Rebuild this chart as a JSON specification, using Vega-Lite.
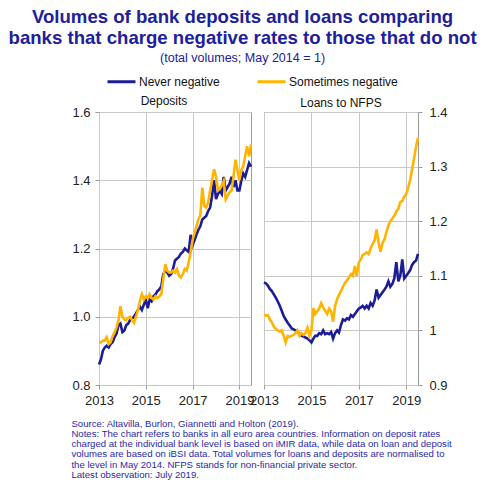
{
  "$schema": "https://vega.github.io/schema/vega-lite/v6.json",
  "padding": {"left": 8, "right": 5, "top": 7, "bottom": 0},
  "background": "white",
  "title": {
    "text": ["Volumes of bank deposits and loans comparing", "banks that charge negative rates to those that do not"],
    "subtitle": "(total volumes; May 2014 = 1)",
    "font": "Liberation Sans",
    "fontSize": 18.6,
    "fontWeight": "bold",
    "color": "#20209a",
    "lineHeight": 21,
    "subtitleFont": "Liberation Sans",
    "subtitleFontSize": 12.5,
    "subtitleColor": "#20209a",
    "subtitlePadding": 4,
    "anchor": "middle",
    "dx": -19,
    "offset": 2
  },
  "datasets": {
    "deposits": [
      {"date": "2013-01", "series": "Never negative", "value": 0.86},
      {"date": "2013-02", "series": "Never negative", "value": 0.875},
      {"date": "2013-03", "series": "Never negative", "value": 0.90},
      {"date": "2013-04", "series": "Never negative", "value": 0.91},
      {"date": "2013-05", "series": "Never negative", "value": 0.915},
      {"date": "2013-06", "series": "Never negative", "value": 0.91},
      {"date": "2013-07", "series": "Never negative", "value": 0.92},
      {"date": "2013-08", "series": "Never negative", "value": 0.925},
      {"date": "2013-09", "series": "Never negative", "value": 0.94},
      {"date": "2013-10", "series": "Never negative", "value": 0.95},
      {"date": "2013-11", "series": "Never negative", "value": 0.975},
      {"date": "2013-12", "series": "Never negative", "value": 0.98},
      {"date": "2014-01", "series": "Never negative", "value": 0.955},
      {"date": "2014-02", "series": "Never negative", "value": 0.96},
      {"date": "2014-03", "series": "Never negative", "value": 0.975},
      {"date": "2014-04", "series": "Never negative", "value": 0.98},
      {"date": "2014-05", "series": "Never negative", "value": 0.99},
      {"date": "2014-06", "series": "Never negative", "value": 0.995},
      {"date": "2014-07", "series": "Never negative", "value": 1.0},
      {"date": "2014-08", "series": "Never negative", "value": 1.01},
      {"date": "2014-09", "series": "Never negative", "value": 1.02},
      {"date": "2014-10", "series": "Never negative", "value": 1.03},
      {"date": "2014-11", "series": "Never negative", "value": 1.02},
      {"date": "2014-12", "series": "Never negative", "value": 1.035},
      {"date": "2015-01", "series": "Never negative", "value": 1.05},
      {"date": "2015-02", "series": "Never negative", "value": 1.025},
      {"date": "2015-03", "series": "Never negative", "value": 1.05},
      {"date": "2015-04", "series": "Never negative", "value": 1.045},
      {"date": "2015-05", "series": "Never negative", "value": 1.06},
      {"date": "2015-06", "series": "Never negative", "value": 1.065},
      {"date": "2015-07", "series": "Never negative", "value": 1.075},
      {"date": "2015-08", "series": "Never negative", "value": 1.08},
      {"date": "2015-09", "series": "Never negative", "value": 1.09},
      {"date": "2015-10", "series": "Never negative", "value": 1.125},
      {"date": "2015-11", "series": "Never negative", "value": 1.135},
      {"date": "2015-12", "series": "Never negative", "value": 1.13},
      {"date": "2016-01", "series": "Never negative", "value": 1.12},
      {"date": "2016-02", "series": "Never negative", "value": 1.125},
      {"date": "2016-03", "series": "Never negative", "value": 1.14},
      {"date": "2016-04", "series": "Never negative", "value": 1.165},
      {"date": "2016-05", "series": "Never negative", "value": 1.17},
      {"date": "2016-06", "series": "Never negative", "value": 1.175},
      {"date": "2016-07", "series": "Never negative", "value": 1.185},
      {"date": "2016-08", "series": "Never negative", "value": 1.19},
      {"date": "2016-09", "series": "Never negative", "value": 1.20},
      {"date": "2016-10", "series": "Never negative", "value": 1.195},
      {"date": "2016-11", "series": "Never negative", "value": 1.19},
      {"date": "2016-12", "series": "Never negative", "value": 1.24},
      {"date": "2017-01", "series": "Never negative", "value": 1.21},
      {"date": "2017-02", "series": "Never negative", "value": 1.225},
      {"date": "2017-03", "series": "Never negative", "value": 1.24},
      {"date": "2017-04", "series": "Never negative", "value": 1.255},
      {"date": "2017-05", "series": "Never negative", "value": 1.265},
      {"date": "2017-06", "series": "Never negative", "value": 1.285},
      {"date": "2017-07", "series": "Never negative", "value": 1.29},
      {"date": "2017-08", "series": "Never negative", "value": 1.295},
      {"date": "2017-09", "series": "Never negative", "value": 1.31},
      {"date": "2017-10", "series": "Never negative", "value": 1.32},
      {"date": "2017-11", "series": "Never negative", "value": 1.355},
      {"date": "2017-12", "series": "Never negative", "value": 1.40},
      {"date": "2018-01", "series": "Never negative", "value": 1.345},
      {"date": "2018-02", "series": "Never negative", "value": 1.36},
      {"date": "2018-03", "series": "Never negative", "value": 1.37},
      {"date": "2018-04", "series": "Never negative", "value": 1.36},
      {"date": "2018-05", "series": "Never negative", "value": 1.41},
      {"date": "2018-06", "series": "Never negative", "value": 1.37},
      {"date": "2018-07", "series": "Never negative", "value": 1.38},
      {"date": "2018-08", "series": "Never negative", "value": 1.39},
      {"date": "2018-09", "series": "Never negative", "value": 1.41},
      {"date": "2018-10", "series": "Never negative", "value": 1.38},
      {"date": "2018-11", "series": "Never negative", "value": 1.40},
      {"date": "2018-12", "series": "Never negative", "value": 1.37},
      {"date": "2019-01", "series": "Never negative", "value": 1.37},
      {"date": "2019-02", "series": "Never negative", "value": 1.40},
      {"date": "2019-03", "series": "Never negative", "value": 1.42},
      {"date": "2019-04", "series": "Never negative", "value": 1.41},
      {"date": "2019-05", "series": "Never negative", "value": 1.43},
      {"date": "2019-06", "series": "Never negative", "value": 1.45},
      {"date": "2019-07", "series": "Never negative", "value": 1.44},
      {"date": "2013-01", "series": "Sometimes negative", "value": 0.925},
      {"date": "2013-02", "series": "Sometimes negative", "value": 0.925},
      {"date": "2013-03", "series": "Sometimes negative", "value": 0.93},
      {"date": "2013-04", "series": "Sometimes negative", "value": 0.93},
      {"date": "2013-05", "series": "Sometimes negative", "value": 0.94},
      {"date": "2013-06", "series": "Sometimes negative", "value": 0.92},
      {"date": "2013-07", "series": "Sometimes negative", "value": 0.925},
      {"date": "2013-08", "series": "Sometimes negative", "value": 0.943},
      {"date": "2013-09", "series": "Sometimes negative", "value": 0.955},
      {"date": "2013-10", "series": "Sometimes negative", "value": 0.968},
      {"date": "2013-11", "series": "Sometimes negative", "value": 0.99},
      {"date": "2013-12", "series": "Sometimes negative", "value": 1.031},
      {"date": "2014-01", "series": "Sometimes negative", "value": 1.0},
      {"date": "2014-02", "series": "Sometimes negative", "value": 0.992},
      {"date": "2014-03", "series": "Sometimes negative", "value": 0.99},
      {"date": "2014-04", "series": "Sometimes negative", "value": 0.997},
      {"date": "2014-05", "series": "Sometimes negative", "value": 1.0},
      {"date": "2014-06", "series": "Sometimes negative", "value": 0.99},
      {"date": "2014-07", "series": "Sometimes negative", "value": 0.982},
      {"date": "2014-08", "series": "Sometimes negative", "value": 1.0},
      {"date": "2014-09", "series": "Sometimes negative", "value": 1.02},
      {"date": "2014-10", "series": "Sometimes negative", "value": 1.046},
      {"date": "2014-11", "series": "Sometimes negative", "value": 1.066},
      {"date": "2014-12", "series": "Sometimes negative", "value": 1.05},
      {"date": "2015-01", "series": "Sometimes negative", "value": 1.06},
      {"date": "2015-02", "series": "Sometimes negative", "value": 1.055},
      {"date": "2015-03", "series": "Sometimes negative", "value": 1.066},
      {"date": "2015-04", "series": "Sometimes negative", "value": 1.056},
      {"date": "2015-05", "series": "Sometimes negative", "value": 1.05},
      {"date": "2015-06", "series": "Sometimes negative", "value": 1.06},
      {"date": "2015-07", "series": "Sometimes negative", "value": 1.055},
      {"date": "2015-08", "series": "Sometimes negative", "value": 1.06},
      {"date": "2015-09", "series": "Sometimes negative", "value": 1.066},
      {"date": "2015-10", "series": "Sometimes negative", "value": 1.11},
      {"date": "2015-11", "series": "Sometimes negative", "value": 1.154},
      {"date": "2015-12", "series": "Sometimes negative", "value": 1.135},
      {"date": "2016-01", "series": "Sometimes negative", "value": 1.13},
      {"date": "2016-02", "series": "Sometimes negative", "value": 1.13},
      {"date": "2016-03", "series": "Sometimes negative", "value": 1.135},
      {"date": "2016-04", "series": "Sometimes negative", "value": 1.13},
      {"date": "2016-05", "series": "Sometimes negative", "value": 1.14},
      {"date": "2016-06", "series": "Sometimes negative", "value": 1.12},
      {"date": "2016-07", "series": "Sometimes negative", "value": 1.115},
      {"date": "2016-08", "series": "Sometimes negative", "value": 1.125},
      {"date": "2016-09", "series": "Sometimes negative", "value": 1.14},
      {"date": "2016-10", "series": "Sometimes negative", "value": 1.135},
      {"date": "2016-11", "series": "Sometimes negative", "value": 1.16},
      {"date": "2016-12", "series": "Sometimes negative", "value": 1.19},
      {"date": "2017-01", "series": "Sometimes negative", "value": 1.225},
      {"date": "2017-02", "series": "Sometimes negative", "value": 1.247},
      {"date": "2017-03", "series": "Sometimes negative", "value": 1.265},
      {"date": "2017-04", "series": "Sometimes negative", "value": 1.286},
      {"date": "2017-05", "series": "Sometimes negative", "value": 1.296},
      {"date": "2017-06", "series": "Sometimes negative", "value": 1.378},
      {"date": "2017-07", "series": "Sometimes negative", "value": 1.325},
      {"date": "2017-08", "series": "Sometimes negative", "value": 1.32},
      {"date": "2017-09", "series": "Sometimes negative", "value": 1.335},
      {"date": "2017-10", "series": "Sometimes negative", "value": 1.37},
      {"date": "2017-11", "series": "Sometimes negative", "value": 1.40},
      {"date": "2017-12", "series": "Sometimes negative", "value": 1.432},
      {"date": "2018-01", "series": "Sometimes negative", "value": 1.41},
      {"date": "2018-02", "series": "Sometimes negative", "value": 1.37},
      {"date": "2018-03", "series": "Sometimes negative", "value": 1.374},
      {"date": "2018-04", "series": "Sometimes negative", "value": 1.385},
      {"date": "2018-05", "series": "Sometimes negative", "value": 1.398},
      {"date": "2018-06", "series": "Sometimes negative", "value": 1.344},
      {"date": "2018-07", "series": "Sometimes negative", "value": 1.355},
      {"date": "2018-08", "series": "Sometimes negative", "value": 1.365},
      {"date": "2018-09", "series": "Sometimes negative", "value": 1.37},
      {"date": "2018-10", "series": "Sometimes negative", "value": 1.41},
      {"date": "2018-11", "series": "Sometimes negative", "value": 1.46},
      {"date": "2018-12", "series": "Sometimes negative", "value": 1.43},
      {"date": "2019-01", "series": "Sometimes negative", "value": 1.40},
      {"date": "2019-02", "series": "Sometimes negative", "value": 1.43},
      {"date": "2019-03", "series": "Sometimes negative", "value": 1.44},
      {"date": "2019-04", "series": "Sometimes negative", "value": 1.47},
      {"date": "2019-05", "series": "Sometimes negative", "value": 1.50},
      {"date": "2019-06", "series": "Sometimes negative", "value": 1.47},
      {"date": "2019-07", "series": "Sometimes negative", "value": 1.505}
    ],
    "loans": [
      {"date": "2013-01", "series": "Never negative", "value": 1.088},
      {"date": "2013-02", "series": "Never negative", "value": 1.086},
      {"date": "2013-03", "series": "Never negative", "value": 1.082},
      {"date": "2013-04", "series": "Never negative", "value": 1.076},
      {"date": "2013-05", "series": "Never negative", "value": 1.072},
      {"date": "2013-06", "series": "Never negative", "value": 1.066},
      {"date": "2013-07", "series": "Never negative", "value": 1.06},
      {"date": "2013-08", "series": "Never negative", "value": 1.053},
      {"date": "2013-09", "series": "Never negative", "value": 1.045},
      {"date": "2013-10", "series": "Never negative", "value": 1.036},
      {"date": "2013-11", "series": "Never negative", "value": 1.026},
      {"date": "2013-12", "series": "Never negative", "value": 1.02},
      {"date": "2014-01", "series": "Never negative", "value": 1.014},
      {"date": "2014-02", "series": "Never negative", "value": 1.009},
      {"date": "2014-03", "series": "Never negative", "value": 1.004},
      {"date": "2014-04", "series": "Never negative", "value": 1.002},
      {"date": "2014-05", "series": "Never negative", "value": 1.0},
      {"date": "2014-06", "series": "Never negative", "value": 0.998},
      {"date": "2014-07", "series": "Never negative", "value": 0.993},
      {"date": "2014-08", "series": "Never negative", "value": 0.99},
      {"date": "2014-09", "series": "Never negative", "value": 0.989},
      {"date": "2014-10", "series": "Never negative", "value": 0.987},
      {"date": "2014-11", "series": "Never negative", "value": 0.985},
      {"date": "2014-12", "series": "Never negative", "value": 0.982},
      {"date": "2015-01", "series": "Never negative", "value": 0.978},
      {"date": "2015-02", "series": "Never negative", "value": 0.985},
      {"date": "2015-03", "series": "Never negative", "value": 0.99},
      {"date": "2015-04", "series": "Never negative", "value": 0.99},
      {"date": "2015-05", "series": "Never negative", "value": 0.995},
      {"date": "2015-06", "series": "Never negative", "value": 0.993},
      {"date": "2015-07", "series": "Never negative", "value": 1.0},
      {"date": "2015-08", "series": "Never negative", "value": 0.993},
      {"date": "2015-09", "series": "Never negative", "value": 0.995},
      {"date": "2015-10", "series": "Never negative", "value": 0.993},
      {"date": "2015-11", "series": "Never negative", "value": 0.997},
      {"date": "2015-12", "series": "Never negative", "value": 0.985},
      {"date": "2016-01", "series": "Never negative", "value": 0.995},
      {"date": "2016-02", "series": "Never negative", "value": 1.0},
      {"date": "2016-03", "series": "Never negative", "value": 0.996},
      {"date": "2016-04", "series": "Never negative", "value": 1.01},
      {"date": "2016-05", "series": "Never negative", "value": 1.02},
      {"date": "2016-06", "series": "Never negative", "value": 1.018},
      {"date": "2016-07", "series": "Never negative", "value": 1.022},
      {"date": "2016-08", "series": "Never negative", "value": 1.02},
      {"date": "2016-09", "series": "Never negative", "value": 1.028},
      {"date": "2016-10", "series": "Never negative", "value": 1.025},
      {"date": "2016-11", "series": "Never negative", "value": 1.03},
      {"date": "2016-12", "series": "Never negative", "value": 1.035},
      {"date": "2017-01", "series": "Never negative", "value": 1.04},
      {"date": "2017-02", "series": "Never negative", "value": 1.042},
      {"date": "2017-03", "series": "Never negative", "value": 1.045},
      {"date": "2017-04", "series": "Never negative", "value": 1.04},
      {"date": "2017-05", "series": "Never negative", "value": 1.045},
      {"date": "2017-06", "series": "Never negative", "value": 1.04},
      {"date": "2017-07", "series": "Never negative", "value": 1.05},
      {"date": "2017-08", "series": "Never negative", "value": 1.045},
      {"date": "2017-09", "series": "Never negative", "value": 1.055},
      {"date": "2017-10", "series": "Never negative", "value": 1.075},
      {"date": "2017-11", "series": "Never negative", "value": 1.06},
      {"date": "2017-12", "series": "Never negative", "value": 1.065},
      {"date": "2018-01", "series": "Never negative", "value": 1.07},
      {"date": "2018-02", "series": "Never negative", "value": 1.075},
      {"date": "2018-03", "series": "Never negative", "value": 1.08},
      {"date": "2018-04", "series": "Never negative", "value": 1.09},
      {"date": "2018-05", "series": "Never negative", "value": 1.08},
      {"date": "2018-06", "series": "Never negative", "value": 1.085},
      {"date": "2018-07", "series": "Never negative", "value": 1.095},
      {"date": "2018-08", "series": "Never negative", "value": 1.125},
      {"date": "2018-09", "series": "Never negative", "value": 1.09},
      {"date": "2018-10", "series": "Never negative", "value": 1.10},
      {"date": "2018-11", "series": "Never negative", "value": 1.13},
      {"date": "2018-12", "series": "Never negative", "value": 1.095},
      {"date": "2019-01", "series": "Never negative", "value": 1.10},
      {"date": "2019-02", "series": "Never negative", "value": 1.105},
      {"date": "2019-03", "series": "Never negative", "value": 1.11},
      {"date": "2019-04", "series": "Never negative", "value": 1.12},
      {"date": "2019-05", "series": "Never negative", "value": 1.125},
      {"date": "2019-06", "series": "Never negative", "value": 1.128},
      {"date": "2019-07", "series": "Never negative", "value": 1.14},
      {"date": "2013-01", "series": "Sometimes negative", "value": 1.029},
      {"date": "2013-02", "series": "Sometimes negative", "value": 1.027},
      {"date": "2013-03", "series": "Sometimes negative", "value": 1.028},
      {"date": "2013-04", "series": "Sometimes negative", "value": 1.02},
      {"date": "2013-05", "series": "Sometimes negative", "value": 1.015},
      {"date": "2013-06", "series": "Sometimes negative", "value": 1.007},
      {"date": "2013-07", "series": "Sometimes negative", "value": 1.003},
      {"date": "2013-08", "series": "Sometimes negative", "value": 1.0},
      {"date": "2013-09", "series": "Sometimes negative", "value": 0.998},
      {"date": "2013-10", "series": "Sometimes negative", "value": 1.0},
      {"date": "2013-11", "series": "Sometimes negative", "value": 0.99},
      {"date": "2013-12", "series": "Sometimes negative", "value": 0.978},
      {"date": "2014-01", "series": "Sometimes negative", "value": 0.99},
      {"date": "2014-02", "series": "Sometimes negative", "value": 0.988},
      {"date": "2014-03", "series": "Sometimes negative", "value": 0.99},
      {"date": "2014-04", "series": "Sometimes negative", "value": 0.992},
      {"date": "2014-05", "series": "Sometimes negative", "value": 0.995},
      {"date": "2014-06", "series": "Sometimes negative", "value": 1.0},
      {"date": "2014-07", "series": "Sometimes negative", "value": 0.99},
      {"date": "2014-08", "series": "Sometimes negative", "value": 0.995},
      {"date": "2014-09", "series": "Sometimes negative", "value": 0.992},
      {"date": "2014-10", "series": "Sometimes negative", "value": 0.995},
      {"date": "2014-11", "series": "Sometimes negative", "value": 1.005},
      {"date": "2014-12", "series": "Sometimes negative", "value": 0.99},
      {"date": "2015-01", "series": "Sometimes negative", "value": 1.0},
      {"date": "2015-02", "series": "Sometimes negative", "value": 1.041},
      {"date": "2015-03", "series": "Sometimes negative", "value": 1.03},
      {"date": "2015-04", "series": "Sometimes negative", "value": 1.035},
      {"date": "2015-05", "series": "Sometimes negative", "value": 1.04},
      {"date": "2015-06", "series": "Sometimes negative", "value": 1.05},
      {"date": "2015-07", "series": "Sometimes negative", "value": 1.042},
      {"date": "2015-08", "series": "Sometimes negative", "value": 1.036},
      {"date": "2015-09", "series": "Sometimes negative", "value": 1.03},
      {"date": "2015-10", "series": "Sometimes negative", "value": 1.04},
      {"date": "2015-11", "series": "Sometimes negative", "value": 1.035},
      {"date": "2015-12", "series": "Sometimes negative", "value": 1.016},
      {"date": "2016-01", "series": "Sometimes negative", "value": 1.045},
      {"date": "2016-02", "series": "Sometimes negative", "value": 1.057},
      {"date": "2016-03", "series": "Sometimes negative", "value": 1.065},
      {"date": "2016-04", "series": "Sometimes negative", "value": 1.072},
      {"date": "2016-05", "series": "Sometimes negative", "value": 1.08},
      {"date": "2016-06", "series": "Sometimes negative", "value": 1.087},
      {"date": "2016-07", "series": "Sometimes negative", "value": 1.092},
      {"date": "2016-08", "series": "Sometimes negative", "value": 1.097},
      {"date": "2016-09", "series": "Sometimes negative", "value": 1.103},
      {"date": "2016-10", "series": "Sometimes negative", "value": 1.10},
      {"date": "2016-11", "series": "Sometimes negative", "value": 1.118},
      {"date": "2016-12", "series": "Sometimes negative", "value": 1.10},
      {"date": "2017-01", "series": "Sometimes negative", "value": 1.125},
      {"date": "2017-02", "series": "Sometimes negative", "value": 1.13},
      {"date": "2017-03", "series": "Sometimes negative", "value": 1.138},
      {"date": "2017-04", "series": "Sometimes negative", "value": 1.14},
      {"date": "2017-05", "series": "Sometimes negative", "value": 1.143},
      {"date": "2017-06", "series": "Sometimes negative", "value": 1.14},
      {"date": "2017-07", "series": "Sometimes negative", "value": 1.15},
      {"date": "2017-08", "series": "Sometimes negative", "value": 1.158},
      {"date": "2017-09", "series": "Sometimes negative", "value": 1.165},
      {"date": "2017-10", "series": "Sometimes negative", "value": 1.185},
      {"date": "2017-11", "series": "Sometimes negative", "value": 1.16},
      {"date": "2017-12", "series": "Sometimes negative", "value": 1.144},
      {"date": "2018-01", "series": "Sometimes negative", "value": 1.16},
      {"date": "2018-02", "series": "Sometimes negative", "value": 1.167},
      {"date": "2018-03", "series": "Sometimes negative", "value": 1.18},
      {"date": "2018-04", "series": "Sometimes negative", "value": 1.192},
      {"date": "2018-05", "series": "Sometimes negative", "value": 1.20},
      {"date": "2018-06", "series": "Sometimes negative", "value": 1.205},
      {"date": "2018-07", "series": "Sometimes negative", "value": 1.21},
      {"date": "2018-08", "series": "Sometimes negative", "value": 1.218},
      {"date": "2018-09", "series": "Sometimes negative", "value": 1.223},
      {"date": "2018-10", "series": "Sometimes negative", "value": 1.235},
      {"date": "2018-11", "series": "Sometimes negative", "value": 1.237},
      {"date": "2018-12", "series": "Sometimes negative", "value": 1.245},
      {"date": "2019-01", "series": "Sometimes negative", "value": 1.25},
      {"date": "2019-02", "series": "Sometimes negative", "value": 1.262},
      {"date": "2019-03", "series": "Sometimes negative", "value": 1.275},
      {"date": "2019-04", "series": "Sometimes negative", "value": 1.295},
      {"date": "2019-05", "series": "Sometimes negative", "value": 1.315},
      {"date": "2019-06", "series": "Sometimes negative", "value": 1.337},
      {"date": "2019-07", "series": "Sometimes negative", "value": 1.353}
    ]
  },
  "vconcat": [
    {
      "title": {
        "text": [
          "Source: Altavilla, Burlon, Giannetti and Holton (2019).",
          "Notes: The chart refers to banks in all euro area countries.  Information on deposit rates",
          "charged at the individual bank level is based on iMIR data, while data on loan and deposit",
          "volumes are based on iBSI data. Total volumes for loans and deposits are normalised to",
          "the level in May 2014. NFPS stands for non-financial private sector.",
          "Latest observation: July 2019."
        ],
        "orient": "bottom",
        "anchor": "start",
        "font": "Liberation Sans",
        "fontSize": 9.6,
        "fontWeight": "normal",
        "color": "#2a2aa6",
        "lineHeight": 10.3,
        "offset": 11
      },
      "spacing": 13,
      "bounds": "flush",
      "hconcat": [
        {
          "width": 152,
          "height": 273,
          "title": {"text": "Deposits", "dx": -11, "offset": -2},
          "data": {"name": "deposits"},
          "mark": {"type": "line", "strokeWidth": 2.6},
          "encoding": {
            "x": {
              "field": "date",
              "type": "temporal",
              "scale": {"type": "utc", "domain": [{"year": 2013, "month": 1, "date": 1, "utc": true}, {"year": 2019, "month": 7, "date": 1, "utc": true}]},
              "axis": {
                "values": [{"year": 2013, "month": 1, "date": 1, "utc": true}, {"year": 2015, "month": 1, "date": 1, "utc": true}, {"year": 2017, "month": 1, "date": 1, "utc": true}, {"year": 2019, "month": 1, "date": 1, "utc": true}],
                "format": "%Y"
              }
            },
            "y": {
              "field": "value",
              "type": "quantitative",
              "scale": {"domain": [0.8, 1.6]},
              "axis": {"values": [0.8, 1.0, 1.2, 1.4, 1.6], "format": ".1f"}
            },
            "color": {
              "field": "series",
              "type": "nominal",
              "scale": {"domain": ["Never negative", "Sometimes negative"], "range": ["#1c1c94", "#ffb400"]}
            }
          }
        },
        {
          "width": 154,
          "height": 273,
          "title": {"text": "Loans to NFPS", "offset": -4},
          "data": {"name": "loans"},
          "mark": {"type": "line", "strokeWidth": 2.6},
          "encoding": {
            "x": {
              "field": "date",
              "type": "temporal",
              "scale": {"type": "utc", "domain": [{"year": 2013, "month": 1, "date": 1, "utc": true}, {"year": 2019, "month": 7, "date": 1, "utc": true}]},
              "axis": {
                "values": [{"year": 2013, "month": 1, "date": 1, "utc": true}, {"year": 2015, "month": 1, "date": 1, "utc": true}, {"year": 2017, "month": 1, "date": 1, "utc": true}, {"year": 2019, "month": 1, "date": 1, "utc": true}],
                "format": "%Y"
              }
            },
            "y": {
              "field": "value",
              "type": "quantitative",
              "scale": {"domain": [0.9, 1.4]},
              "axis": {
                "orient": "right",
                "values": [0.9, 1.0, 1.1, 1.2, 1.3, 1.4],
                "labelExpr": "datum.value == 1 ? '1' : format(datum.value, '.1f')",
                "labelPadding": 7
              }
            },
            "color": {
              "field": "series",
              "type": "nominal",
              "scale": {"domain": ["Never negative", "Sometimes negative"], "range": ["#1c1c94", "#ffb400"]}
            }
          }
        }
      ]
    }
  ],
  "config": {
    "font": "Liberation Sans",
    "view": {"stroke": "#9a9a9a", "strokeWidth": 1},
    "title": {"font": "Liberation Sans", "fontSize": 12, "fontWeight": "normal", "color": "#111111", "anchor": "middle"},
    "axis": {
      "title": null,
      "domain": false,
      "labelFont": "Liberation Sans",
      "labelFontSize": 13,
      "labelColor": "#222222",
      "labelOverlap": false,
      "labelFlush": false,
      "labelBound": false,
      "gridColor": "#c8c8c8",
      "gridWidth": 1,
      "tickColor": "#9a9a9a",
      "tickSize": 4,
      "labelPadding": 5
    },
    "legend": {
      "orient": "top",
      "direction": "horizontal",
      "title": null,
      "symbolType": "stroke",
      "symbolSize": 784,
      "symbolStrokeWidth": 3,
      "symbolOffset": 7,
      "labelFont": "Liberation Sans",
      "labelFontSize": 12,
      "labelColor": "#111111",
      "labelOffset": 2,
      "columnPadding": 29,
      "offset": 6
    }
  }
}
